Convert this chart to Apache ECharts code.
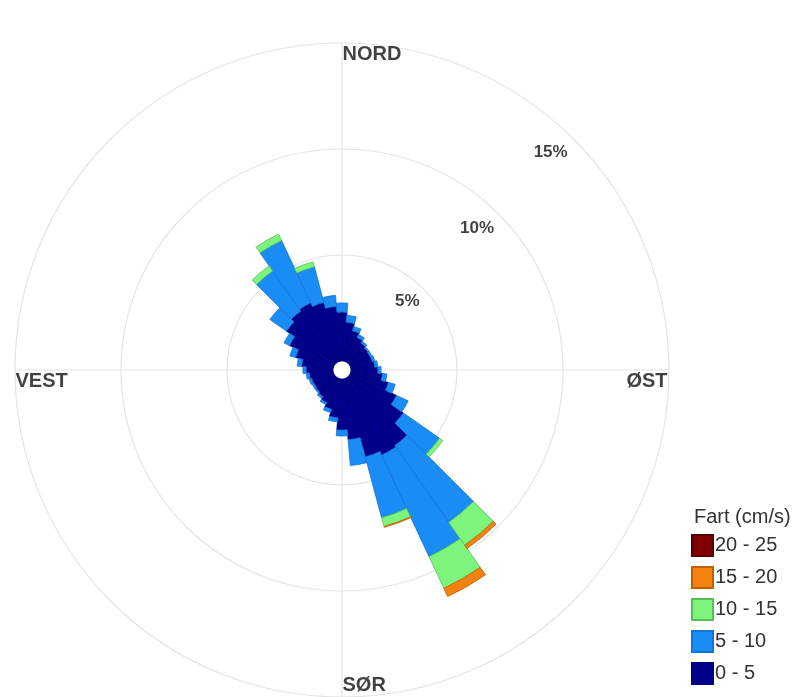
<!DOCTYPE html>
<html>
<head>
<meta charset="utf-8">
<script src="https://cdn.jsdelivr.net/npm/echarts@6/dist/echarts.min.js"></script>
<style>
  html, body { margin: 0; padding: 0; background: #ffffff; }
  #chart { width: 801px; height: 697px; }
</style>
</head>
<body>
<div id="chart"></div>
<script>
// Current direction sectors (degrees, 10° bins centred on each value)
const directions = [0, 10, 20, 30, 40, 50, 60, 70, 80, 90, 100, 110,
                    120, 130, 140, 150, 160, 170, 180, 190, 200, 210, 220, 230,
                    240, 250, 260, 270, 280, 290, 300, 310, 320, 330, 340, 350];

// Speed classes (cm/s)
const speedClasses = ['0 - 5', '5 - 10', '10 - 15', '15 - 20', '20 - 25'];

// Share of observations (%) per direction for each speed class
const share0to5 = [2.31, 1.84, 1.49, 1.27, 1.13, 1.06, 1.04, 1.06, 1.13, 1.27, 1.49, 1.84,
                   2.41, 3.11, 3.92, 4.01, 3.82, 2.88, 2.41, 1.84, 1.49, 1.27, 1.13, 1.06,
                   1.04, 1.06, 1.13, 1.27, 1.49, 1.84, 2.31, 2.78, 2.97, 3.07, 2.88, 2.59];
const share5to10 = [0.43, 0.33, 0.21, 0.15, 0.10, 0.07, 0.09, 0.12, 0.14, 0.15, 0.21, 0.33,
                    0.61, 2.08, 4.43, 5.28, 2.97, 1.22, 0.28, 0.19, 0.16, 0.10, 0.10, 0.07,
                    0.09, 0.12, 0.14, 0.15, 0.21, 0.28, 0.28, 0.95, 2.31, 3.25, 1.74, 0.52];
const share10to15 = [0, 0, 0, 0, 0, 0, 0, 0, 0, 0, 0, 0,
                     0, 0.19, 1.32, 1.65, 0.43, 0, 0, 0, 0, 0, 0, 0,
                     0, 0, 0, 0, 0, 0, 0, 0, 0.29, 0.33, 0.24, 0];
const share15to20 = [0, 0, 0, 0, 0, 0, 0, 0, 0, 0, 0, 0,
                     0, 0, 0.19, 0.43, 0.04, 0, 0, 0, 0, 0, 0, 0,
                     0, 0, 0, 0, 0, 0, 0, 0, 0, 0, 0, 0];
const share20to25 = [0, 0, 0, 0, 0, 0, 0, 0, 0, 0, 0, 0,
                     0, 0, 0, 0, 0, 0, 0, 0, 0, 0, 0, 0,
                     0, 0, 0, 0, 0, 0, 0, 0, 0, 0, 0, 0];

// Ring labels and compass labels
const ringValues = [5, 10, 15];
const ringLabels = ['5%', '10%', '15%'];
const compassNames = ['NORD', 'ØST', 'SØR', 'VEST'];
const compassAngles = [0, 90, 180, 270];

const shares = [share0to5, share5to10, share10to15, share15to20, share20to25];
const fills = ['#00008a', '#1a8cf5', '#7df57d', '#f5820f', '#800000'];
const edges = ['#000078', '#1474d6', '#55c055', '#c06000', '#5a0000'];

const FONT = '"Liberation Sans", Arial, sans-serif';
const CENTER = [342, 370];
const RADIUS = [9, 327];
const R_MAX = 15;

const chart = echarts.init(document.getElementById('chart'), null, { renderer: 'canvas' });

const barSeries = speedClasses.map((name, k) => ({
  name: name,
  type: 'bar',
  coordinateSystem: 'polar',
  polarIndex: 0,
  stack: 'fart',
  barCategoryGap: '0%',
  data: shares[k].map(v => (v > 0 ? v : '-')),
  itemStyle: { color: fills[k], borderColor: edges[k], borderWidth: 0.8 },
  emphasis: { disabled: true },
  z: 3
}));

// Compass labels sit just inside the outer ring
const compassStyle = [
  { align: 'left',  verticalAlign: 'middle', offset: [1, 12] },   // NORD
  { align: 'right', verticalAlign: 'middle', offset: [-1, 12] },  // ØST
  { align: 'left',  verticalAlign: 'middle', offset: [1, -11] },  // SØR
  { align: 'left',  verticalAlign: 'middle', offset: [1, 12] }    // VEST
];
const compassData = compassNames.map((n, i) => ({
  name: n,
  value: [R_MAX, compassAngles[i]],
  label: Object.assign({
    show: true, position: [0, 0], formatter: '{b}',
    fontFamily: FONT, fontWeight: 'bold', fontSize: 20, color: '#111111'
  }, compassStyle[i])
}));

// Percentage labels along the north-east diagonal, just inside each ring
const ringOffsets = [[-14, 15], [-18, 18], [-18, 18]];
const ringData = ringValues.map((v, i) => ({
  name: ringLabels[i],
  value: [v, 44],
  label: {
    show: true, position: [0, 0], align: 'center', verticalAlign: 'middle',
    offset: ringOffsets[i], formatter: '{b}',
    fontFamily: FONT, fontWeight: 'bold', fontSize: 17, color: '#111111'
  }
}));

const option = {
  backgroundColor: '#ffffff',
  animation: false,
  title: {
    text: 'Fart (cm/s)',
    left: 694, top: 507, padding: 0,
    textStyle: { fontFamily: FONT, fontSize: 20, fontWeight: 'normal', color: '#333333' }
  },
  legend: {
    orient: 'vertical',
    left: 691, top: 534,
    padding: 0,
    itemWidth: 21, itemHeight: 21, itemGap: 9,
    icon: 'rect',
    data: speedClasses.slice().reverse(),
    textStyle: { fontFamily: FONT, fontSize: 20, color: '#333333', padding: [0, 0, 0, -3] },
    selectedMode: false
  },
  polar: [
    { center: CENTER, radius: RADIUS },
    { center: CENTER, radius: RADIUS }
  ],
  angleAxis: [
    {
      polarIndex: 0, type: 'category', data: directions.map(String),
      startAngle: 95, clockwise: true, boundaryGap: true,
      axisLine: { show: false }, axisTick: { show: false },
      axisLabel: { show: false }, splitLine: { show: false }, splitArea: { show: false }
    },
    {
      polarIndex: 1, type: 'value', min: 0, max: 360, interval: 90,
      startAngle: 90, clockwise: true,
      axisLine: { show: false }, axisTick: { show: false }, axisLabel: { show: false },
      splitLine: { show: true, lineStyle: { color: '#e4e4e4', width: 1.2 } }
    }
  ],
  radiusAxis: [
    {
      polarIndex: 0, type: 'value', min: 0, max: R_MAX,
      axisLine: { show: false }, axisTick: { show: false },
      axisLabel: { show: false }, splitLine: { show: false }
    },
    {
      polarIndex: 1, type: 'value', min: 0, max: R_MAX, interval: 5,
      axisLine: { show: false }, axisTick: { show: false }, axisLabel: { show: false },
      splitLine: { show: true, lineStyle: { color: '#e4e4e4', width: 1.2 } }
    }
  ],
  series: barSeries.concat([
    {
      name: 'compass', type: 'scatter', coordinateSystem: 'polar', polarIndex: 1,
      symbolSize: 1, itemStyle: { color: 'rgba(0,0,0,0)' },
      data: compassData, silent: true, z: 5
    },
    {
      name: 'rings', type: 'scatter', coordinateSystem: 'polar', polarIndex: 1,
      symbolSize: 1, itemStyle: { color: 'rgba(0,0,0,0)' },
      data: ringData, silent: true, z: 5
    }
  ])
};

chart.setOption(option);
</script>
</body>
</html>
